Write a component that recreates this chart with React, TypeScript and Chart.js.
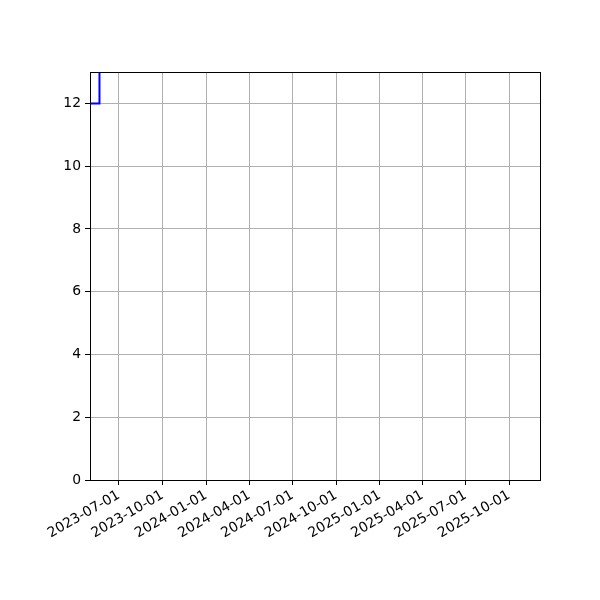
import React, { useEffect, useRef } from "react";
import { Chart, registerables } from "chart.js";

Chart.register(...registerables);

const utc = (s: string) => Date.parse(s + "T00:00:00Z");

// series: value 12 until the step, then jumps far above the visible range
const dates = ["2023-05-01", "2023-05-21", "2023-05-21", "2023-06-10"];
const values = [12, 12, 40, 40];

const tickDates = [
  "2023-07-01",
  "2023-10-01",
  "2024-01-01",
  "2024-04-01",
  "2024-07-01",
  "2024-10-01",
  "2025-01-01",
  "2025-04-01",
  "2025-07-01",
  "2025-10-01",
];
const yTicks = [0, 2, 4, 6, 8, 10, 12];

const xMin = utc("2023-05-01");
const xMax = utc("2025-12-05");

const fmt = (v: number) => new Date(v).toISOString().slice(0, 10);

const App = () => {
  const chartRef = useRef<HTMLCanvasElement>(null);

  useEffect(() => {
    document.body.style.margin = "0";
    const ctx = chartRef.current?.getContext("2d");
    if (!ctx) return;

    const font = { family: "DejaVu Sans", size: 13.9 };

    const chart = new Chart(ctx, {
      type: "line",
      data: {
        datasets: [
          {
            data: dates.map((d, i) => ({ x: utc(d), y: values[i] })),
            borderColor: "#0000ff",
            borderWidth: 2,
            pointRadius: 0,
            tension: 0,
            fill: false,
          },
        ],
      },
      options: {
        animation: false,
        responsive: false,
        layout: { padding: { top: 72, right: 60, left: 0, bottom: 0 } },
        scales: {
          x: {
            type: "linear",
            min: xMin,
            max: xMax,
            afterBuildTicks: (axis) => {
              axis.ticks = tickDates.map((d) => ({ value: utc(d) }));
            },
            afterFit: (axis) => {
              axis.height = 120;
            },
            ticks: {
              color: "#000",
              font,
              minRotation: 30,
              maxRotation: 30,
              autoSkip: false,
              padding: 2,
              callback: (v) => fmt(Number(v)),
            },
            grid: {
              color: "#b0b0b0",
              lineWidth: 1,
              tickColor: "#000",
              tickLength: 5,
            },
            border: { color: "#000", width: 1 },
          },
          y: {
            min: 0,
            max: 13,
            afterBuildTicks: (axis) => {
              axis.ticks = yTicks.map((v) => ({ value: v }));
            },
            afterFit: (axis) => {
              axis.width = 90;
            },
            ticks: { color: "#000", font, padding: 4 },
            grid: {
              color: "#b0b0b0",
              lineWidth: 1,
              tickColor: "#000",
              tickLength: 5,
            },
            border: { color: "#000", width: 1 },
          },
        },
        plugins: {
          legend: { display: false },
          tooltip: { enabled: false },
        },
      },
      plugins: [
        {
          id: "frame",
          afterDraw: (c) => {
            const { left, right, top, bottom } = c.chartArea;
            const g = c.ctx;
            g.save();
            g.strokeStyle = "#000";
            g.lineWidth = 1;
            g.strokeRect(left + 0.5, top + 0.5, right - left, bottom - top);
            g.restore();
          },
        },
      ],
    });

    return () => {
      chart.destroy();
    };
  }, []);

  return (
    <div style={{ width: 600, height: 600, background: "#fff" }}>
      <canvas ref={chartRef} width={600} height={600}></canvas>
    </div>
  );
};

export default App;
